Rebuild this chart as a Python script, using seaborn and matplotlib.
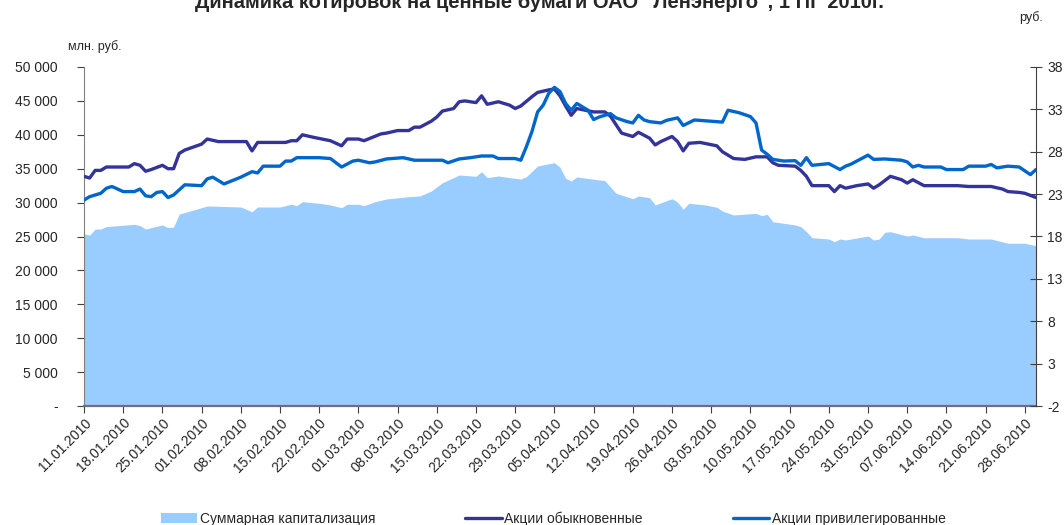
import numpy as np
import pandas as pd
import matplotlib
matplotlib.use("Agg")
import matplotlib.pyplot as plt
import matplotlib.dates as mdates
from matplotlib.patches import Patch
from matplotlib.lines import Line2D
from matplotlib.ticker import FuncFormatter, MultipleLocator, FixedLocator
import seaborn as sns

# Суммарная капитализация, млн. руб.
cap_dates = ["11.01", "12.01", "13.01", "14.01", "15.01", "20.01", "21.01", "22.01", "25.01", "26.01",
             "27.01", "28.01", "01.02", "02.02", "08.02", "10.02", "11.02", "15.02", "17.02", "18.02",
             "19.02", "22.02", "24.02", "26.02", "27.02", "01.03", "02.03", "04.03", "06.03", "10.03",
             "12.03", "14.03", "16.03", "19.03", "22.03", "23.03", "24.03", "26.03", "28.03", "30.03",
             "31.03", "02.04", "05.04", "06.04", "07.04", "08.04", "09.04", "13.04", "14.04", "16.04",
             "19.04", "20.04", "22.04", "23.04", "26.04", "27.04", "28.04", "29.04", "02.05", "04.05",
             "05.05", "07.05", "11.05", "12.05", "13.05", "14.05", "18.05", "19.05", "20.05", "21.05",
             "24.05", "25.05", "26.05", "27.05", "31.05", "01.06", "02.06", "03.06", "04.06", "07.06",
             "08.06", "10.06", "16.06", "18.06", "22.06", "25.06", "28.06", "30.06"]
cap_vals = [25400, 25200, 26100, 26100, 26450, 26800, 26600, 26100, 26700, 26300,
            26400, 28300, 29250, 29500, 29350, 28650, 29350, 29350, 29750, 29550,
            30130, 29900, 29650, 29250, 29750, 29750, 29550, 30130, 30530, 30870,
            30980, 31700, 32930, 34070, 33880, 34560, 33670, 33930, 33680, 33480,
            33830, 35400, 35890, 35210, 33580, 33190, 33780, 33340, 33240, 31370,
            30580, 30980, 30720, 29650, 30580, 30050, 29010, 29900, 29650, 29310,
            28760, 28170, 28420, 28070, 28280, 27180, 26700, 26450, 25710, 24820,
            24630, 24230, 24630, 24485, 25070, 24485, 24630, 25620, 25710, 25070,
            25220, 24820, 24820, 24630, 24630, 24000, 24000, 23650]

# Акции обыкновенные, руб.
ord_dates = ["11.01", "12.01", "13.01", "14.01", "15.01", "19.01", "20.01", "21.01", "22.01", "23.01",
             "25.01", "26.01", "27.01", "28.01", "29.01", "01.02", "02.02", "04.02", "09.02", "10.02",
             "11.02", "16.02", "17.02", "18.02", "19.02", "21.02", "24.02", "26.02", "27.02", "01.03",
             "02.03", "05.03", "06.03", "08.03", "10.03", "11.03", "12.03", "14.03", "15.03", "16.03",
             "18.03", "19.03", "20.03", "22.03", "23.03", "24.03", "26.03", "28.03", "29.03", "30.03",
             "01.04", "02.04", "04.04", "05.04", "06.04", "07.04", "08.04", "09.04", "12.04", "14.04",
             "15.04", "16.04", "17.04", "19.04", "20.04", "22.04", "23.04", "24.04", "26.04", "27.04",
             "28.04", "29.04", "01.05", "04.05", "05.05", "07.05", "09.05", "11.05", "13.05", "14.05",
             "15.05", "18.05", "19.05", "20.05", "21.05", "24.05", "25.05", "26.05", "27.05", "29.05",
             "31.05", "01.06", "02.06", "04.06", "06.06", "07.06", "08.06", "10.06", "16.06", "18.06",
             "22.06", "24.06", "25.06", "27.06", "28.06", "30.06"]
ord_vals = [25.1, 24.9, 25.8, 25.8, 26.2, 26.2, 26.6, 26.4, 25.7, 25.9,
            26.4, 26.0, 26.0, 27.8, 28.2, 28.9, 29.5, 29.2, 29.2, 28.1,
            29.1, 29.1, 29.3, 29.3, 30.0, 29.7, 29.3, 28.7, 29.5, 29.5,
            29.3, 30.1, 30.2, 30.5, 30.5, 30.9, 30.9, 31.6, 32.1, 32.8,
            33.1, 33.9, 34.0, 33.8, 34.6, 33.6, 33.9, 33.5, 33.1, 33.4,
            34.5, 35.0, 35.3, 35.4, 34.6, 33.4, 32.3, 33.1, 32.7, 32.7,
            32.2, 31.2, 30.2, 29.8, 30.3, 29.6, 28.8, 29.2, 29.8, 29.2,
            28.1, 29.0, 29.1, 28.7, 28.0, 27.2, 27.1, 27.4, 27.4, 26.7,
            26.4, 26.3, 25.8, 25.1, 24.0, 24.0, 23.3, 24.0, 23.7, 24.0,
            24.2, 23.7, 24.1, 25.1, 24.7, 24.3, 24.7, 24.0, 24.0, 23.9,
            23.9, 23.6, 23.3, 23.2, 23.1, 22.6]

# Акции привилегированные, руб.
pref_dates = ["11.01", "12.01", "14.01", "15.01", "16.01", "18.01", "20.01", "21.01", "22.01", "23.01",
              "24.01", "25.01", "26.01", "27.01", "29.01", "01.02", "02.02", "03.02", "05.02", "08.02",
              "10.02", "11.02", "12.02", "15.02", "16.02", "17.02", "18.02", "22.02", "24.02", "26.02",
              "28.02", "01.03", "03.03", "04.03", "06.03", "09.03", "11.03", "16.03", "17.03", "19.03",
              "21.03", "23.03", "25.03", "26.03", "29.03", "30.03", "31.03", "01.04", "02.04", "03.04",
              "04.04", "05.04", "06.04", "07.04", "08.04", "09.04", "11.04", "12.04", "13.04", "15.04",
              "16.04", "18.04", "19.04", "20.04", "21.04", "22.04", "24.04", "25.04", "27.04", "28.04",
              "30.04", "05.05", "06.05", "08.05", "10.05", "11.05", "12.05", "13.05", "14.05", "16.05",
              "18.05", "19.05", "20.05", "21.05", "24.05", "26.05", "27.05", "28.05", "31.05", "01.06",
              "03.06", "06.06", "07.06", "08.06", "09.06", "10.06", "13.06", "14.06", "17.06", "18.06",
              "21.06", "22.06", "23.06", "25.06", "27.06", "29.06", "30.06"]
pref_vals = [22.3, 22.7, 23.1, 23.7, 23.9, 23.3, 23.3, 23.6, 22.8, 22.7,
             23.2, 23.3, 22.6, 22.9, 24.1, 24.0, 24.8, 25.0, 24.2, 25.0,
             25.65, 25.5, 26.3, 26.3, 26.9, 26.9, 27.3, 27.3, 27.2, 26.2,
             26.9, 27.0, 26.7, 26.8, 27.15, 27.3, 27.0, 27.0, 26.7, 27.15,
             27.3, 27.5, 27.5, 27.2, 27.2, 27.0, 28.6, 30.4, 32.7, 33.5,
             34.9, 35.6, 35.1, 33.7, 32.9, 33.7, 32.9, 31.8, 32.1, 32.5,
             32.0, 31.55, 31.4, 32.3, 31.75, 31.55, 31.4, 31.7, 32.0, 31.1,
             31.75, 31.5, 32.9, 32.6, 32.15, 31.4, 28.2, 27.7, 27.1, 26.9,
             26.95, 26.4, 27.3, 26.4, 26.6, 25.9, 26.3, 26.55, 27.6, 27.1,
             27.15, 27.0, 26.8, 26.2, 26.4, 26.2, 26.2, 25.9, 25.9, 26.3,
             26.3, 26.5, 26.1, 26.3, 26.2, 25.3, 25.9]

right_ticks = [-2, 3, 8, 13, 18, 23, 28, 33, 38]

title = 'Динамика котировок на ценные бумаги ОАО "Ленэнерго", 1 ПГ 2010г.'
series_names = ["Суммарная капитализация", "Акции обыкновенные", "Акции привилегированные"]


def to_dt(days):
    return pd.to_datetime([d + ".2010" for d in days], format="%d.%m.%Y")


cap = pd.DataFrame({"date": to_dt(cap_dates), "value": cap_vals})
ordin = pd.DataFrame({"date": to_dt(ord_dates), "value": ord_vals})
pref = pd.DataFrame({"date": to_dt(pref_dates), "value": pref_vals})

sns.set_style("white")
plt.rcParams["font.family"] = ["Liberation Sans", "DejaVu Sans"]
plt.rcParams["axes.unicode_minus"] = False

c_area = "#99CCFF"
c_ord = "#333399"
c_pref = "#0066CC"

fig = plt.figure(figsize=(10.64, 5.25), dpi=100)
ax = fig.add_axes([84 / 1064, 1 - 406 / 525, (1036 - 84) / 1064, (406 - 67) / 525])
ax2 = ax.twinx()

ax.fill_between(cap["date"], cap["value"], 0, color=c_area, lw=0)
sns.lineplot(data=ordin, x="date", y="value", ax=ax2, color=c_ord, lw=2.4, legend=False)
sns.lineplot(data=pref, x="date", y="value", ax=ax2, color=c_pref, lw=2.4, legend=False)

ax.set_xlim(pd.Timestamp("2010-01-11"), pd.Timestamp("2010-06-30"))
ax.set_ylim(0, 50000)
ax2.set_ylim(-2, 38)
ax.yaxis.set_major_locator(MultipleLocator(5000))
ax2.yaxis.set_major_locator(FixedLocator(right_ticks))
ax2.yaxis.set_major_formatter(FuncFormatter(lambda v, p: f"{v:.0f}"))
ax.yaxis.set_major_formatter(FuncFormatter(lambda v, p: "-" if v == 0 else f"{v:,.0f}".replace(",", " ")))

ax.xaxis.set_major_locator(mdates.WeekdayLocator(byweekday=mdates.MO))
ax.xaxis.set_major_formatter(mdates.DateFormatter("%d.%m.%Y"))
for lab in ax.get_xticklabels():
    lab.set_rotation(45)
    lab.set_ha("right")
    lab.set_rotation_mode("anchor")

ax.set_xlabel("")
ax.set_ylabel("")
ax2.set_xlabel("")
ax2.set_ylabel("")
ax.grid(False)
ax2.grid(False)

for a in (ax, ax2):
    a.spines["top"].set_visible(False)
ax.spines["left"].set_color("#808080")
ax.spines["bottom"].set_color("#707070")
ax.spines["bottom"].set_linewidth(1.6)
ax.spines["right"].set_visible(False)
ax2.spines["left"].set_visible(False)
ax2.spines["bottom"].set_visible(False)
ax2.spines["right"].set_color("#404040")

ax.tick_params(axis="y", direction="out", length=5, width=0.8, color="#404040", labelsize=10, pad=14)
ax.tick_params(axis="x", direction="out", length=5, width=0.8, color="#404040", labelsize=10, pad=2)
ax2.tick_params(axis="y", direction="inout", length=8, width=0.8, color="#404040", labelsize=10, pad=4)
ax.tick_params(axis="both", which="both", bottom=True, left=True)

fig.text(0.507, 1 - 8 / 525, title, ha="center", va="baseline", fontsize=14.5, weight="bold")
fig.text(95 / 1064, 1 - 47 / 525, "млн. руб.", ha="center", va="center", fontsize=9)
fig.text(1031 / 1064, 1 - 18 / 525, "руб.", ha="center", va="center", fontsize=9)

handles = [Patch(facecolor=c_area, edgecolor="none"),
           Line2D([], [], color=c_ord, lw=2.4),
           Line2D([], [], color=c_pref, lw=2.4)]
fig.legend(handles, series_names, loc="lower center", bbox_to_anchor=(0.52, -0.026), ncol=3,
           frameon=False, fontsize=10, columnspacing=6.5, handlelength=2.6, handletextpad=0.2)

fig.savefig("out.png", dpi=100)
